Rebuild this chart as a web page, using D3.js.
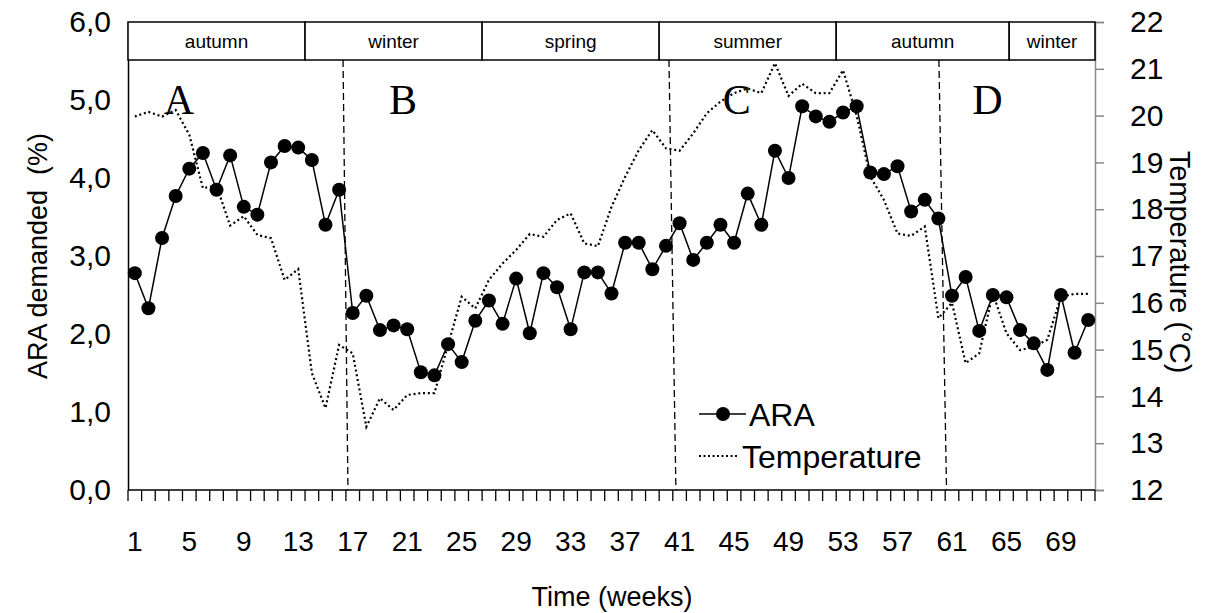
<!DOCTYPE html>
<html>
<head>
<meta charset="utf-8">
<script src="https://cdn.jsdelivr.net/npm/d3@7/dist/d3.min.js"></script>
<style>
  html, body { margin: 0; padding: 0; background: #fff; }
  svg { display: block; font-family: "Liberation Sans", Arial, sans-serif; }
</style>
</head>
<body>
<svg id="chart" width="1211" height="613"></svg>
<script>
// Weekly ARA demand (%) and water temperature (°C), weeks 1–71
const weeks = d3.range(1, 72);
const ara = [
  2.78, 2.33, 3.23, 3.77, 4.12, 4.32, 3.85, 4.29, 3.63, 3.53,
  4.20, 4.41, 4.39, 4.23, 3.40, 3.85, 2.27, 2.49, 2.05, 2.11,
  2.06, 1.51, 1.47, 1.87, 1.64, 2.17, 2.43, 2.13, 2.71, 2.01,
  2.78, 2.60, 2.06, 2.79, 2.79, 2.52, 3.17, 3.17, 2.83, 3.13,
  3.42, 2.95, 3.17, 3.40, 3.17, 3.80, 3.40, 4.35, 4.00, 4.92,
  4.79, 4.72, 4.84, 4.92, 4.07, 4.05, 4.15, 3.57, 3.72, 3.48,
  2.49, 2.73, 2.04, 2.50, 2.47, 2.05, 1.88, 1.54, 2.50, 1.76,
  2.18
];
const temperature = [
  19.98, 20.08, 19.98, 20.12, 19.59, 18.45, 18.50, 17.65, 17.85, 17.45,
  17.38, 16.49, 16.72, 14.50, 13.75, 15.10, 14.92, 13.35, 13.96, 13.71,
  14.03, 14.07, 14.07, 15.10, 16.13, 15.88, 16.49, 16.84, 17.13, 17.47,
  17.41, 17.77, 17.91, 17.27, 17.21, 18.05, 18.69, 19.26, 19.69, 19.30,
  19.25, 19.62, 20.05, 20.30, 20.48, 20.58, 20.48, 21.12, 20.42, 20.68,
  20.48, 20.48, 20.97, 20.00, 18.70, 18.20, 17.48, 17.43, 17.63, 15.67,
  16.00, 14.71, 14.92, 16.20, 15.35, 14.99, 15.06, 15.21, 16.13, 16.19,
  16.19
];
const xTickLabels = d3.range(1, 72, 4);          // 1, 5, 9, ... 69
const araTicks = [0, 1, 2, 3, 4, 5, 6];
const tempTicks = d3.range(12, 23);

// Seasons along the top (start/end in weeks elapsed)
const seasonNames = ["autumn", "winter", "spring", "summer", "autumn", "winter"];
const seasonStart = [0, 13, 26, 39, 52, 64.7];
const seasonEnd   = [13, 26, 39, 52, 64.7, 71];

// Phase separators (slanted dashed lines), in weeks at top and bottom
const phaseTop    = [16.29, 40.22, 60.04];
const phaseBottom = [16.65, 40.73, 60.60];
const phaseLetters = ["A", "B", "C", "D"];
const phaseLetterWeek = [4.24, 20.7, 45.2, 63.6];

const svg = d3.select("#chart");
const L = 128, R = 1095, T = 22, B = 490, bandTop = 60;

const x = d3.scaleBand().domain(weeks).range([L, R]).paddingInner(0).paddingOuter(0);
const xc = w => x(w) + x.bandwidth() / 2;
const xEdge = d3.scaleLinear().domain([0, weeks.length]).range([L, R]);
const xWeek = d3.scaleLinear().domain([0.5, weeks.length + 0.5]).range([L, R]);
const yA = d3.scaleLinear().domain([0, 6]).range([B, T]);
const yT = d3.scaleLinear().domain([12, 22]).range([B, T]);

const fmtComma = d => d3.format(".1f")(d).replace(".", ",");

// Right axis (temperature)
const rightAxis = svg.append("g")
  .attr("transform", `translate(${R},0)`)
  .call(d3.axisRight(yT).tickValues(tempTicks).tickSize(9).tickPadding(26).tickFormat(d3.format("d")));
rightAxis.select(".domain").attr("stroke", "#888").attr("stroke-width", 1.5);
rightAxis.selectAll(".tick line").attr("stroke", "#888").attr("stroke-width", 1.5);
rightAxis.selectAll("text").attr("font-size", 30).attr("fill", "#000")
  .attr("font-family", "Liberation Sans, Arial, sans-serif");

// Left axis (ARA)
const leftAxis = svg.append("g")
  .attr("transform", `translate(${L},0)`)
  .call(d3.axisLeft(yA).tickValues(araTicks).tickSize(0).tickPadding(17).tickFormat(fmtComma));
leftAxis.select(".domain").attr("stroke", "#000").attr("stroke-width", 1.5);
leftAxis.selectAll("text").attr("font-size", 30).attr("fill", "#000")
  .attr("font-family", "Liberation Sans, Arial, sans-serif");

// Bottom axis: a tick at every week boundary, labels every 4 weeks
const bottom = svg.append("g").attr("transform", `translate(0,${B})`);
bottom.append("line").attr("x1", L).attr("x2", R).attr("y1", 0).attr("y2", 0)
  .attr("stroke", "#000").attr("stroke-width", 1.5);
bottom.selectAll("line.tk").data(d3.range(0, weeks.length + 1)).join("line")
  .attr("class", "tk")
  .attr("x1", d => xEdge(d)).attr("x2", d => xEdge(d))
  .attr("y1", 0).attr("y2", 11)
  .attr("stroke", "#000").attr("stroke-width", 1.3);
bottom.selectAll("text").data(xTickLabels).join("text")
  .attr("x", d => xc(d)).attr("y", 61)
  .attr("text-anchor", "middle").attr("font-size", 28)
  .text(d => d);

// Season boxes
const seasons = seasonNames.map((n, i) => ({ name: n, s: seasonStart[i], e: seasonEnd[i] }));
const sg = svg.append("g");
sg.selectAll("rect").data(seasons).join("rect")
  .attr("x", d => xEdge(d.s)).attr("y", T)
  .attr("width", d => xEdge(d.e) - xEdge(d.s)).attr("height", bandTop - T)
  .attr("fill", "#fff").attr("stroke", "#000").attr("stroke-width", 1.5);
sg.selectAll("text").data(seasons).join("text")
  .attr("x", d => (xEdge(d.s) + xEdge(d.e)) / 2).attr("y", 48)
  .attr("text-anchor", "middle").attr("font-size", 19)
  .text(d => d.name);

// Phase separators
svg.append("g").selectAll("line").data(phaseTop.map((t, i) => [t, phaseBottom[i]])).join("line")
  .attr("x1", d => xWeek(d[0])).attr("y1", bandTop)
  .attr("x2", d => xWeek(d[1])).attr("y2", B)
  .attr("stroke", "#000").attr("stroke-width", 1.3).attr("stroke-dasharray", "7,4");

// Phase letters
svg.append("g").selectAll("text").data(phaseLetters).join("text")
  .attr("x", (d, i) => xWeek(phaseLetterWeek[i])).attr("y", yA(4.82))
  .attr("text-anchor", "middle")
  .attr("font-family", "Liberation Serif, Times New Roman, serif")
  .attr("font-size", 42)
  .text(d => d);

// Temperature (dotted)
const tLine = d3.line().x((d, i) => xc(weeks[i])).y(d => yT(d));
svg.append("path").datum(temperature)
  .attr("d", tLine).attr("fill", "none")
  .attr("stroke", "#000").attr("stroke-width", 2.2)
  .attr("stroke-dasharray", "2,2.8");

// ARA line with markers
const aLine = d3.line().x((d, i) => xc(weeks[i])).y(d => yA(d));
svg.append("path").datum(ara)
  .attr("d", aLine).attr("fill", "none")
  .attr("stroke", "#000").attr("stroke-width", 1.5);
svg.append("g").selectAll("circle").data(ara).join("circle")
  .attr("cx", (d, i) => xc(weeks[i])).attr("cy", d => yA(d))
  .attr("r", 7).attr("fill", "#000");

// Legend
const lg = svg.append("g");
lg.append("line").attr("x1", 699).attr("x2", 746).attr("y1", 414).attr("y2", 414)
  .attr("stroke", "#000").attr("stroke-width", 1.5);
lg.append("circle").attr("cx", 723).attr("cy", 414).attr("r", 7).attr("fill", "#000");
lg.append("text").attr("x", 749).attr("y", 426).attr("font-size", 32).text("ARA");
lg.append("line").attr("x1", 699).attr("x2", 737).attr("y1", 456).attr("y2", 456)
  .attr("stroke", "#000").attr("stroke-width", 2).attr("stroke-dasharray", "2,2.5");
lg.append("text").attr("x", 742).attr("y", 468).attr("font-size", 32).text("Temperature");

// Axis titles
svg.append("text").attr("x", 612).attr("y", 606).attr("text-anchor", "middle")
  .attr("font-size", 27).text("Time (weeks)");
svg.append("text").attr("transform", "translate(47,256) rotate(-90)")
  .attr("text-anchor", "middle").attr("font-size", 27)
  .attr("xml:space", "preserve").style("white-space", "pre")
  .text("ARA demanded  (%)");
svg.append("text").attr("transform", "translate(1170,262) rotate(90)")
  .attr("text-anchor", "middle").attr("font-size", 29).text("Temperature (°C)");
</script>
</body>
</html>
